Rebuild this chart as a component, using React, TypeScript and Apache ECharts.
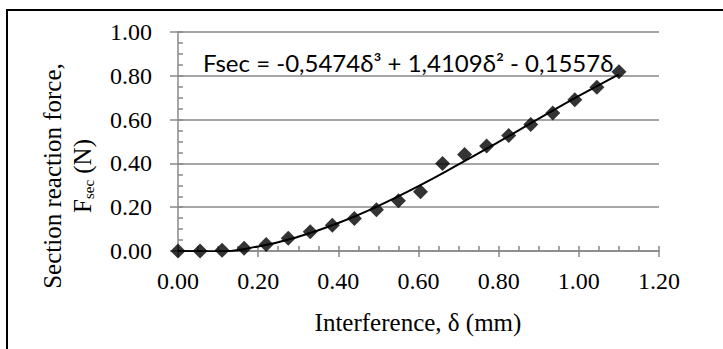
import React, { useEffect, useRef } from "react";
import * as echarts from "echarts";

// Measured points (interference δ in mm, section reaction force in N)
const interference = [0, 0.055, 0.11, 0.165, 0.22, 0.275, 0.33, 0.385, 0.44, 0.495, 0.55, 0.605, 0.66, 0.715, 0.77, 0.825, 0.88, 0.935, 0.99, 1.045, 1.1];
const force = [0, 0, 0.003, 0.012, 0.03, 0.058, 0.088, 0.118, 0.148, 0.188, 0.23, 0.27, 0.4, 0.441, 0.479, 0.527, 0.578, 0.63, 0.691, 0.748, 0.819];

// Trend line samples
const trendX = [0, 0.1, 0.2, 0.3, 0.4, 0.5, 0.6, 0.7, 0.8, 0.9, 1.0, 1.1];
const trendY = [0, -0.002, 0.021, 0.065, 0.128, 0.206, 0.296, 0.395, 0.498, 0.604, 0.708, 0.807];

const equationText = "Fsec = -0,5474δ³ + 1,4109δ² - 0,1557δ";
const xTitle = "Interference, δ (mm)";
const yTitleLine1 = "Section reaction force,";

const GRAY = "#888888";
const SERIF = "'Liberation Serif', 'Times New Roman', serif";

export default function App() {
  const ref = useRef<HTMLDivElement>(null);

  useEffect(() => {
    if (!ref.current) return;
    const chart = echarts.init(ref.current, undefined, { renderer: "svg" });
    const tickStyle = { color: GRAY, width: 1.5 };
    const fmt = (v: number) => v.toFixed(2);

    chart.setOption({
      animation: false,
      backgroundColor: "#ffffff",
      grid: { left: 178, top: 32, width: 481, height: 219 },
      xAxis: [
        {
          type: "value",
          min: 0,
          max: 1.2,
          interval: 0.2,
          axisLine: { show: true, lineStyle: { color: GRAY, width: 1.5 } },
          axisTick: { show: true, inside: false, length: 6, lineStyle: tickStyle },
          axisLabel: { formatter: fmt, fontFamily: SERIF, fontSize: 24, color: "#000", margin: 18 },
          splitLine: { show: false },
        },
        {
          type: "value",
          min: 0,
          max: 1.2,
          interval: 0.05,
          position: "bottom",
          axisLine: { show: false },
          axisTick: { show: true, inside: true, length: 5, lineStyle: tickStyle },
          axisLabel: { show: false },
          splitLine: { show: false },
        },
      ],
      yAxis: [
        {
          type: "value",
          min: 0,
          max: 1,
          interval: 0.2,
          axisLine: { show: true, lineStyle: { color: GRAY, width: 1.5 } },
          axisTick: { show: true, inside: false, length: 8, lineStyle: tickStyle },
          axisLabel: { formatter: fmt, fontFamily: SERIF, fontSize: 24, color: "#000", margin: 26 },
          splitLine: { show: true, lineStyle: { color: GRAY, width: 1.5 } },
        },
        {
          type: "value",
          min: 0,
          max: 1,
          interval: 0.05,
          position: "left",
          axisLine: { show: false },
          axisTick: { show: true, inside: true, length: 5, lineStyle: tickStyle },
          axisLabel: { show: false },
          splitLine: { show: false },
        },
      ],
      series: [
        {
          type: "line",
          xAxisIndex: 0,
          yAxisIndex: 0,
          data: trendX.map((x, i) => [x, trendY[i]]),
          smooth: true,
          showSymbol: false,
          symbol: "none",
          lineStyle: { color: "#000", width: 2 },
          z: 3,
        },
        {
          type: "scatter",
          xAxisIndex: 0,
          yAxisIndex: 0,
          data: interference.map((x, i) => [x, force[i]]),
          symbol: "diamond",
          symbolSize: [15, 15],
          itemStyle: { color: "#000" },
          z: 4,
        },
      ],
      graphic: [
        {
          type: "polyline",
          shape: { points: [[7, 360], [7, 10], [740, 10]] },
          style: { fill: "none", stroke: "#000", lineWidth: 2 },
          silent: true,
          z: 10,
        },
        {
          type: "text",
          x: 203,
          y: 62,
          style: {
            text: equationText,
            fontFamily: "Lato, 'Open Sans', sans-serif",
            fontSize: 24,
            fill: "#000",
            textAlign: "left",
            textVerticalAlign: "middle",
          },
          z: 10,
        },
        {
          type: "text",
          x: 418,
          y: 322,
          style: {
            text: xTitle,
            fontFamily: SERIF,
            fontSize: 25,
            fill: "#000",
            textAlign: "center",
            textVerticalAlign: "middle",
          },
        },
        {
          type: "text",
          x: 52,
          y: 176,
          rotation: Math.PI / 2,
          style: {
            text: yTitleLine1,
            fontFamily: SERIF,
            fontSize: 25,
            fill: "#000",
            textAlign: "center",
            textVerticalAlign: "middle",
          },
        },
        {
          type: "text",
          x: 82,
          y: 176,
          rotation: Math.PI / 2,
          style: {
            text: "{m|F}{s|sec}{m| (N)}",
            textAlign: "center",
            textVerticalAlign: "middle",
            rich: {
              m: { fontFamily: SERIF, fontSize: 25, lineHeight: 28, fill: "#000", verticalAlign: "middle" },
              s: { fontFamily: SERIF, fontSize: 15, lineHeight: 16, fill: "#000", verticalAlign: "bottom" },
            },
          },
        },
      ],
    });

    return () => chart.dispose();
  }, []);

  return (
    <div
      ref={ref}
      style={{ position: "fixed", left: 0, top: 0, width: 723, height: 349, background: "#fff" }}
    />
  );
}
